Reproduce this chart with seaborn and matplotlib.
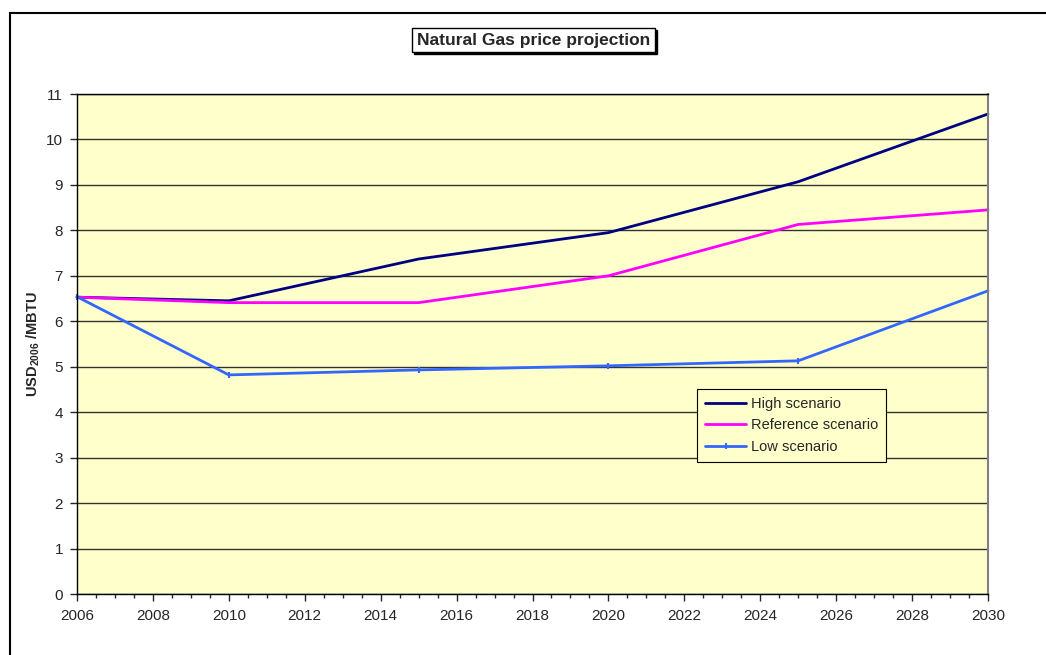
import matplotlib
matplotlib.use("Agg")
import matplotlib.pyplot as plt
import seaborn as sns
import pandas as pd
from matplotlib.patches import Rectangle
from matplotlib.ticker import MultipleLocator

years = [2006, 2010, 2015, 2020, 2025, 2030]
high = [6.53, 6.45, 7.37, 7.95, 9.07, 10.56]
reference = [6.53, 6.41, 6.41, 7.00, 8.13, 8.45]
low = [6.54, 4.82, 4.93, 5.02, 5.13, 6.67]

series_names = ["High scenario", "Reference scenario", "Low scenario"]
series_colors = {"High scenario": "#000080", "Reference scenario": "#FF00FF", "Low scenario": "#3366FF"}

df = pd.DataFrame({
    "Year": years * 3,
    "Price": high + reference + low,
    "Scenario": [n for n in series_names for _ in years],
})

sns.set_style("white")
plt.rcParams["font.family"] = ["Liberation Sans", "DejaVu Sans"]
plt.rcParams["mathtext.fontset"] = "custom"
plt.rcParams["mathtext.rm"] = "Liberation Sans:bold"
plt.rcParams["mathtext.bf"] = "Liberation Sans:bold"

fig = plt.figure(figsize=(10.46, 6.55), dpi=100)
ax = fig.add_axes([77 / 1046, 1 - 594 / 655, 911 / 1046, 500 / 655])
ax.set_facecolor("#FFFFCC")

for name in series_names:
    sub = df[df["Scenario"] == name]
    c = series_colors[name]
    sns.lineplot(data=sub, x="Year", y="Price", ax=ax, color=c,
                 linewidth=2.0, label=name, clip_on=False,
                 marker="|" if name == "Low scenario" else None,
                 markersize=5, markeredgewidth=1.5, markeredgecolor=c)

ax.set_xlim(2006, 2030)
ax.set_ylim(0, 11)
ax.xaxis.set_major_locator(MultipleLocator(2))
ax.xaxis.set_minor_locator(MultipleLocator(0.5))
ax.yaxis.set_major_locator(MultipleLocator(1))
ax.tick_params(axis="x", which="major", direction="out", length=5, width=1, pad=6, labelsize=11, bottom=True)
ax.tick_params(axis="x", which="minor", direction="out", length=3, width=1, bottom=True)
ax.tick_params(axis="y", which="major", direction="out", length=5, width=1, pad=5, labelsize=11, left=True)

ax.grid(axis="y", color="#333333", linewidth=1)
ax.grid(axis="x", visible=False)
ax.set_axisbelow(True)
for side in ["left", "bottom", "top"]:
    ax.spines[side].set_color("black")
    ax.spines[side].set_linewidth(1)
ax.spines["right"].set_color("#808080")
ax.spines["right"].set_linewidth(1.5)

ax.set_xlabel("")
ax.set_ylabel(r"USD$_{2006}$ /MBTU", fontsize=10.5, fontweight="bold", labelpad=3)

leg = ax.legend(loc="upper left", bbox_to_anchor=(0.681, 0.41), fontsize=10.5,
                frameon=True, fancybox=False, edgecolor="black", facecolor="#FFFFCC",
                framealpha=1, handlelength=2.8, handletextpad=0.3, borderpad=0.55,
                labelspacing=0.5, borderaxespad=0)
leg.get_frame().set_linewidth(0.8)

title = "Natural Gas price projection"
tx, ty = 0.5105, 1 - 40 / 655
fig.text(tx + 2 / 1046, ty - 2 / 655, title, ha="center", va="center",
         fontsize=12.5, fontweight="bold", color="black",
         bbox=dict(boxstyle="square,pad=0.28", facecolor="black", edgecolor="black", linewidth=1))
fig.text(tx, ty, title, ha="center", va="center",
         fontsize=12.5, fontweight="bold",
         bbox=dict(boxstyle="square,pad=0.28", facecolor="white", edgecolor="black", linewidth=1))

# outer chart border (top and left visible)
fig.patches.append(Rectangle((10 / 1046, -0.05), 1.1, 1 - 13 / 655 + 0.05,
                             transform=fig.transFigure, fill=False, edgecolor="black", linewidth=1.5))

fig.savefig("out.png", dpi=100)
